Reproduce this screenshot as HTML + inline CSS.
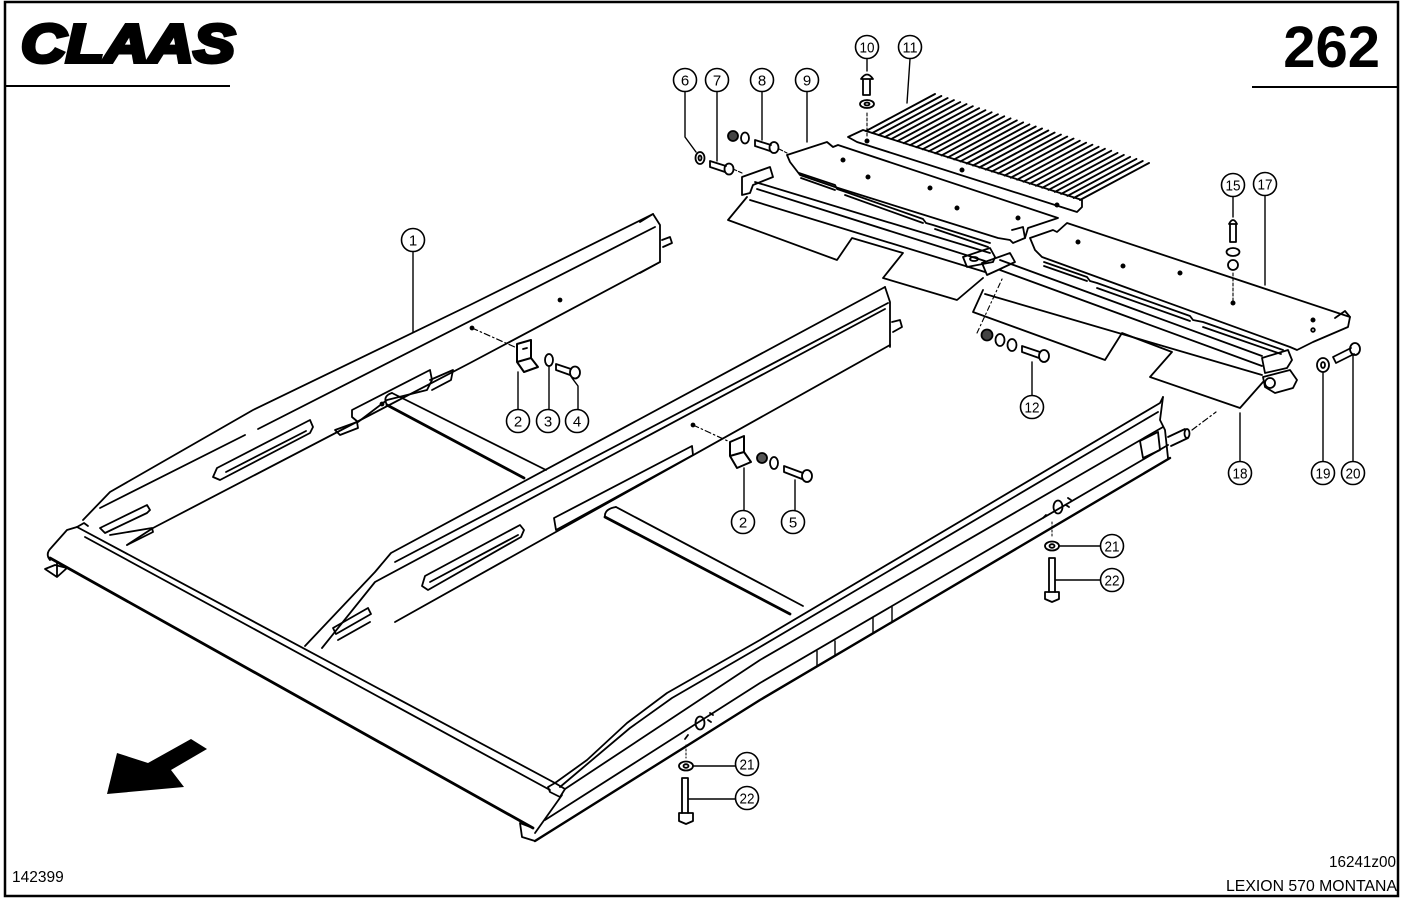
<!DOCTYPE html>
<html><head><meta charset="utf-8"><style>
html,body{margin:0;padding:0;background:#fff;}
svg{display:block}
text{font-family:"Liberation Sans",Arial,sans-serif;fill:#000}
</style></head><body>
<svg width="1403" height="900" viewBox="0 0 1403 900" xmlns="http://www.w3.org/2000/svg">
<rect x="0" y="0" width="1403" height="900" fill="#fff"/>
<rect x="5" y="2" width="1393" height="894" fill="none" stroke="#000" stroke-width="2.5"/>
<line x1="5" y1="86" x2="230" y2="86" stroke="#000" stroke-width="2"/>
<line x1="1252" y1="87" x2="1399" y2="87" stroke="#000" stroke-width="2"/>
<text x="21" y="62" font-size="54" font-weight="bold" font-style="italic" textLength="214" lengthAdjust="spacingAndGlyphs" stroke="#000" stroke-width="4" stroke-linejoin="miter">CLAAS</text>
<text x="1380" y="67" font-size="58" font-weight="bold" text-anchor="end">262</text>
<text x="1396" y="867" font-size="16" text-anchor="end" textLength="67" lengthAdjust="spacingAndGlyphs">16241z00</text>
<text x="1226" y="891" font-size="16" textLength="171" lengthAdjust="spacingAndGlyphs">LEXION 570 MONTANA</text>
<text x="12" y="882" font-size="15.5">142399</text>

<!-- arrow -->
<polygon points="107,794 117,753 148,763 191,739 207,749 171,770 184,787" fill="#000"/>

<g fill="none" stroke="#000" stroke-width="1.8" stroke-linejoin="round" stroke-linecap="round">
<!-- FRONT BEAM -->
<path d="M50,558 L533,828" stroke-width="2.8"/>
<path d="M77,527 L555,783"/>
<path d="M85,537 L550,790"/>
<path d="M50,560 Q45,554 51,548 L67,530 L77,527 L84,523 L88,526"/>
<path d="M45,569 L55,565 L67,568 L57,577 Z M57,562 L57,577"/>
<path d="M548,787 L555,783 L565,789 L560,797 L550,792 Z"/>
<path d="M562,795 L535,833"/>
<path d="M533,828 L520,823 L522,837 L535,841"/>

<!-- RIGHT RAIL -->
<path d="M555,783 L587,760 L627,723 L667,693 L760,640 L1160,403 L1163,397"/>
<path d="M560,787 L630,728 L672,698 L760,647 L1158,412"/>
<path d="M565,789 L760,660 L1163,427"/>
<path d="M545,820 L760,683 L1168,445"/>
<path d="M535,841 L760,700 L1170,458" stroke-width="2.4"/>
<path d="M1163,397 L1160,420 L1165,430 L1168,458"/>
<path d="M1140,441 L1158,432 L1160,450 L1143,458 Z"/>
<path d="M1168,437 L1185,429 M1171,446 L1188,438"/>
<ellipse cx="1187" cy="433.5" rx="2.5" ry="4.5"/>
<path d="M1192,430 L1216,412" stroke-dasharray="6 3 1.5 3" stroke-width="1.2"/>
<path d="M817,651 L817,666 M835,641 L835,656 M873,618 L873,633 M892,607 L892,622" stroke-width="1.4"/>
<ellipse cx="1058" cy="507" rx="4.5" ry="6.5"/>
<path d="M1068,498 l3,2 M1066,505 l3,2 M1046,515 l-3,3"/>
<ellipse cx="700" cy="723" rx="4.5" ry="6.5"/>
<path d="M710,713 l3,2 M708,720 l3,2 M688,735 l-3,4"/>
<path d="M1052,522 L1052,538 M686,745 L686,758" stroke-width="1" stroke-dasharray="2 2"/>

<!-- LEFT RAIL -->
<path d="M83,520 L110,492 L253,410 L470,305 L653,214"/>
<path d="M100,508 L245,435 M258,429 L655,227"/>
<path d="M127,545 L153,528 L470,363 L660,262"/>
<path d="M640,222 L653,214 L660,225 L660,262 L640,273"/>
<path d="M662,240 L670,237 L672,243 L663,247"/>
<path d="M213,477 L217,468 L310,420 L313,427 L310,433 L220,480 Z M226,472 L306,431"/>
<path d="M100,528 L147,505 L150,510 L147,513 L105,533 Z"/>
<path d="M110,535 L152,528 L153,532 L127,545"/>
<path d="M352,410 L430,370 L432,380 L427,390 L387,400 L358,422 L352,417 Z"/>
<path d="M335,430 L357,422 L358,428 L340,435 Z"/>
<path d="M430,380 L453,370 L451,380 L432,390"/>
<circle cx="560" cy="300" r="1.5" fill="#000"/>
<circle cx="382" cy="404" r="1.5" fill="#000"/>

<!-- TUBE 1 -->
<path d="M392,393 L546,470"/>
<path d="M387,405 L524,478" stroke-width="2.8"/>
<path d="M392,393 Q382,396 387,405"/>
<!-- TUBE 2 -->
<path d="M616,507 L803,606"/>
<path d="M605,517 L790,614" stroke-width="2.8"/>
<path d="M616,507 Q604,509 605,517"/>

<!-- MIDDLE RAIL -->
<path d="M305,646 L375,572 L391,553 L885,287"/>
<path d="M395,562 L888,303"/>
<path d="M322,648 L375,582 L885,309"/>
<path d="M395,622 L890,345"/>
<path d="M885,287 L890,302 L890,347"/>
<path d="M892,322 L900,320 L902,327 L893,332"/>
<path d="M333,628 L368,608 L371,614 L336,634 Z M338,640 L370,622"/>
<path d="M422,586 L425,576 L520,525 L524,530 L521,537 L428,590 Z M430,582 L518,535"/>
<path d="M554,518 L692,446 L693,455 L600,506 L556,530 Z"/>

<!-- BRACKETS / HARDWARE frame -->
<path d="M472,328 L517,348 M693,425 L730,442" stroke-dasharray="6 3 1.5 3" stroke-width="1.2"/>
<circle cx="472" cy="328" r="1.5" fill="#000"/>
<circle cx="693" cy="425" r="1.5" fill="#000"/>
<path d="M517,344 L531,340 L531,358 L517,362 Z M517,362 L531,358 L538,367 L524,372 Z" stroke-width="2"/>
<path d="M523,349 l4,-1"/>
<ellipse cx="549" cy="360" rx="4" ry="6"/>
<path d="M556,364 L571,369 M556,370 L570,375 M556,364 L556,370"/>
<ellipse cx="575" cy="372.5" rx="5" ry="6"/>
<path d="M730,442 L744,436 L744,452 L730,456 Z M730,456 L744,452 L751,462 L737,468 Z" stroke-width="2"/>
<circle cx="762" cy="458" r="5" fill="#555"/>
<ellipse cx="774" cy="463" rx="4" ry="6"/>
<path d="M784,466 L803,473 M784,472 L802,479 M784,466 L784,472"/>
<ellipse cx="807" cy="476" rx="5" ry="6"/>
<path d="M518,372 L518,410 M549,366 L549,410 M572,378 L578,386 L578,410 M744,468 L744,510 M795,480 L795,510 M413,252 L413,332" stroke-width="1.4"/>

<!-- lower 21/22 -->
<ellipse cx="686" cy="766" rx="7" ry="4.5"/>
<ellipse cx="686" cy="766" rx="2.5" ry="1.8"/>
<path d="M682,778 L682,813 M688,778 L688,813 M682,778 L688,778"/>
<path d="M679,813 L693,813 L693,821 L686,824 L679,821 Z"/>
<path d="M693,766 L736,766 M689,799 L736,799" stroke-width="1.4"/>
<!-- upper 21/22 -->
<ellipse cx="1052" cy="546" rx="7" ry="4.5"/>
<ellipse cx="1052" cy="546" rx="2.5" ry="1.8"/>
<path d="M1049,558 L1049,592 M1055,558 L1055,592 M1049,558 L1055,558"/>
<path d="M1045,592 L1059,592 L1059,599 L1052,602 L1045,599 Z"/>
<path d="M1059,546 L1101,546 M1056,580 L1101,580" stroke-width="1.4"/>

<!-- UPPER ASSEMBLY: LEFT UNIT -->
<path d="M747,197 L728,220 L837,260 L852,238 L903,253 L883,278 L957,300 L983,278"/>
<path d="M750,200 L985,272"/>
<path d="M755,182 L990,253"/>
<path d="M757,189 L985,261"/>
<path d="M742,177 L770,167 L773,177 L753,185 L750,193 L742,195 Z"/>
<path d="M787,155 L827,142 L833,147 L838,145 L1058,218 L1028,228 L1025,238 L1013,243 L1010,240 L998,238 L835,187 L800,175 L790,162 Z"/>
<path d="M1012,230 L1023,227 L1025,238"/>
<path d="M799,173 L835,185 L837,189 L843,191 L923,219 L926,223 L933,225 L990,243"/>
<path d="M801,178 L835,190 M845,195 L923,223 M935,229 L988,247"/>
<circle cx="843" cy="160" r="1.6" fill="#000"/>
<circle cx="868" cy="177" r="1.6" fill="#000"/>
<circle cx="930" cy="188" r="1.6" fill="#000"/>
<circle cx="957" cy="208" r="1.6" fill="#000"/>
<circle cx="1018" cy="218" r="1.6" fill="#000"/>
<circle cx="962" cy="170" r="1.6" fill="#000"/>
<circle cx="1057" cy="205" r="1.6" fill="#000"/>
<circle cx="867" cy="141" r="1.6" fill="#000"/>

<!-- comb 11 -->
<path d="M848,137 L863,130 L1082,200 L1082,207 L1077,212 L857,142 Z"/>
<path stroke-width="1.9" d="M866,131 L935,94 M872.3,133 L941.3,96 M878.6,135.1 L947.6,98.1 M884.9,137.1 L953.9,100.1 M891.2,139.1 L960.2,102.1 M897.5,141.1 L966.5,104.1 M903.8,143.2 L972.8,106.2 M910.1,145.2 L979.1,108.2 M916.4,147.2 L985.4,110.2 M922.6,149.3 L991.6,112.3 M928.9,151.3 L997.9,114.3 M935.2,153.3 L1004.2,116.3 M941.5,155.4 L1010.5,118.4 M947.8,157.4 L1016.8,120.4 M954.1,159.4 L1023.1,122.4 M960.4,161.4 L1029.4,124.4 M966.7,163.5 L1035.7,126.5 M973,165.5 L1042,128.5 M979.3,167.5 L1048.3,130.5 M985.6,169.6 L1054.6,132.6 M991.9,171.6 L1060.9,134.6 M998.2,173.6 L1067.2,136.6 M1004.5,175.6 L1073.5,138.6 M1010.8,177.7 L1079.8,140.7 M1017.1,179.7 L1086.1,142.7 M1023.4,181.7 L1092.4,144.7 M1029.6,183.8 L1098.6,146.8 M1035.9,185.8 L1104.9,148.8 M1042.2,187.8 L1111.2,150.8 M1048.5,189.9 L1117.5,152.9 M1054.8,191.9 L1123.8,154.9 M1061.1,193.9 L1130.1,156.9 M1067.4,195.9 L1136.4,158.9 M1073.7,198 L1142.7,161 M1080,200 L1149,163"/>

<!-- hardware 6,7,8,10 -->
<ellipse cx="700" cy="158" rx="4.5" ry="6"/>
<ellipse cx="700" cy="158" rx="1.5" ry="2.5"/>
<path d="M710,161 L726,166 M710,167 L725,172 M710,161 L710,167"/>
<ellipse cx="729" cy="169" rx="4.5" ry="5.5"/>
<circle cx="733" cy="136" r="5" fill="#444"/>
<ellipse cx="745" cy="138" rx="4" ry="5.5"/>
<path d="M755,140 L771,145 M755,146 L770,151 M755,140 L755,146"/>
<ellipse cx="774" cy="147.5" rx="4.5" ry="5.5"/>
<path d="M733,169 L742,173 M779,149 L787,153" stroke-dasharray="4 2" stroke-width="1.1"/>
<path d="M861,79 Q867,70 873,79 Z M863,80 L863,95 M870,80 L870,95 M863,95 L870,95"/>
<ellipse cx="867" cy="104" rx="7" ry="4"/>
<ellipse cx="867" cy="104" rx="2.5" ry="1.5"/>
<path d="M867,113 L867,137" stroke-dasharray="3 2" stroke-width="1.1"/>
<path d="M685,92 L685,137 L696,152 M717,92 L717,161 M762,92 L762,140 M807,92 L807,142 M867,59 L867,71 M910,59 L907,103" stroke-width="1.4"/>

<!-- RIGHT UNIT -->
<path d="M1042,257 L1035,250 L1030,238 L1053,230 L1057,232 L1067,223 L1350,317 L1348,327 L1313,342 L1297,350 L1290,347 Z"/>
<path d="M1335,318 L1345,311 L1350,317"/>
<circle cx="1313" cy="330" r="1.8"/>
<path d="M1044,262 L1087,277 L1090,281 L1097,283 L1190,316 L1193,320 L1203,322 L1283,350"/>
<path d="M1044,266 L1087,281 M1097,288 L1190,321 M1203,327 L1281,354"/>
<circle cx="1078" cy="242" r="1.6" fill="#000"/>
<circle cx="1123" cy="266" r="1.6" fill="#000"/>
<circle cx="1180" cy="273" r="1.6" fill="#000"/>
<circle cx="1233" cy="303" r="1.6" fill="#000"/>
<circle cx="1313" cy="320" r="1.6" fill="#000"/>
<path d="M1000,260 L1262,356"/>
<path d="M1000,270 L1262,366"/>
<path d="M963,257 L990,248 L995,257 L993,262 L967,267 Z"/>
<path d="M982,263 L1010,253 L1015,262 L998,270 L987,275 Z"/>
<ellipse cx="974" cy="259" rx="4" ry="2"/>
<path d="M983,290 L973,312 L1105,360 L1122,333 L1172,352 L1150,377 L1240,408 L1263,382"/>
<path d="M985,294 L1262,375"/>
<path d="M1262,358 L1288,350 L1292,360 L1287,368 L1265,373 Z"/>
<path d="M1263,377 L1290,370 L1297,380 L1293,388 L1275,393 L1265,387 Z"/>
<circle cx="1270" cy="383" r="5"/>
<!-- hardware 12,15,19,20 -->
<path d="M977,333 L1003,277" stroke-dasharray="5 3 1.5 3" stroke-width="1.1"/>
<circle cx="987" cy="335" r="5.5" fill="#444"/>
<ellipse cx="1000" cy="340" rx="4.5" ry="6"/>
<ellipse cx="1012" cy="345" rx="4.5" ry="6"/>
<path d="M1022,346 L1040,352 M1022,352 L1039,358 M1022,346 L1022,352"/>
<ellipse cx="1044" cy="356" rx="5" ry="6"/>
<path d="M1229,224 Q1233,216 1237,224 Z M1230,224 L1230,242 M1236,224 L1236,242 M1230,242 L1236,242"/>
<ellipse cx="1233" cy="252" rx="6.5" ry="4"/>
<circle cx="1233" cy="265" r="5"/>
<path d="M1233,273 L1233,302" stroke-dasharray="3 2" stroke-width="1.1"/>
<ellipse cx="1323" cy="365" rx="6" ry="7"/>
<ellipse cx="1323" cy="365" rx="2" ry="3"/>
<path d="M1333,357 L1351,348 M1336,363 L1354,354 M1333,357 L1336,363"/>
<ellipse cx="1355" cy="349" rx="5" ry="6"/>
<path d="M1233,197 L1233,217 M1265,196 L1265,285 M1032,362 L1032,395 M1240,413 L1240,461 M1323,373 L1323,461 M1353,356 L1353,461" stroke-width="1.4"/>
</g>

<!-- CALLOUTS -->
<g fill="#fff" stroke="#000" stroke-width="1.6">
<circle cx="413" cy="240" r="11.5"/>
<circle cx="518" cy="421" r="11.5"/>
<circle cx="548" cy="421" r="11.5"/>
<circle cx="577" cy="421" r="11.5"/>
<circle cx="743" cy="522" r="11.5"/>
<circle cx="793" cy="522" r="11.5"/>
<circle cx="685" cy="80" r="11.5"/>
<circle cx="717" cy="80" r="11.5"/>
<circle cx="762" cy="80" r="11.5"/>
<circle cx="807" cy="80" r="11.5"/>
<circle cx="867" cy="47" r="11.5"/>
<circle cx="910" cy="47" r="11.5"/>
<circle cx="1233" cy="185" r="11.5"/>
<circle cx="1265" cy="184" r="11.5"/>
<circle cx="1032" cy="407" r="11.5"/>
<circle cx="1240" cy="473" r="11.5"/>
<circle cx="1323" cy="473" r="11.5"/>
<circle cx="1353" cy="473" r="11.5"/>
<circle cx="1112" cy="546" r="11.5"/>
<circle cx="1112" cy="580" r="11.5"/>
<circle cx="747" cy="764" r="11.5"/>
<circle cx="747" cy="798" r="11.5"/>
</g>
<g font-size="15" text-anchor="middle">
<text x="413" y="245.5">1</text>
<text x="518" y="426.5">2</text>
<text x="548" y="426.5">3</text>
<text x="577" y="426.5">4</text>
<text x="743" y="527.5">2</text>
<text x="793" y="527.5">5</text>
<text x="685" y="85.5">6</text>
<text x="717" y="85.5">7</text>
<text x="762" y="85.5">8</text>
<text x="807" y="85.5">9</text>
<text x="867" y="52.5" textLength="15" lengthAdjust="spacingAndGlyphs">10</text>
<text x="910" y="52.5" textLength="15" lengthAdjust="spacingAndGlyphs">11</text>
<text x="1233" y="190.5" textLength="15" lengthAdjust="spacingAndGlyphs">15</text>
<text x="1265" y="189.5" textLength="15" lengthAdjust="spacingAndGlyphs">17</text>
<text x="1032" y="412.5" textLength="15" lengthAdjust="spacingAndGlyphs">12</text>
<text x="1240" y="478.5" textLength="15" lengthAdjust="spacingAndGlyphs">18</text>
<text x="1323" y="478.5" textLength="15" lengthAdjust="spacingAndGlyphs">19</text>
<text x="1353" y="478.5" textLength="15" lengthAdjust="spacingAndGlyphs">20</text>
<text x="1112" y="551.5" textLength="15" lengthAdjust="spacingAndGlyphs">21</text>
<text x="1112" y="585.5" textLength="15" lengthAdjust="spacingAndGlyphs">22</text>
<text x="747" y="769.5" textLength="15" lengthAdjust="spacingAndGlyphs">21</text>
<text x="747" y="803.5" textLength="15" lengthAdjust="spacingAndGlyphs">22</text>
</g>
</svg>
</body></html>
